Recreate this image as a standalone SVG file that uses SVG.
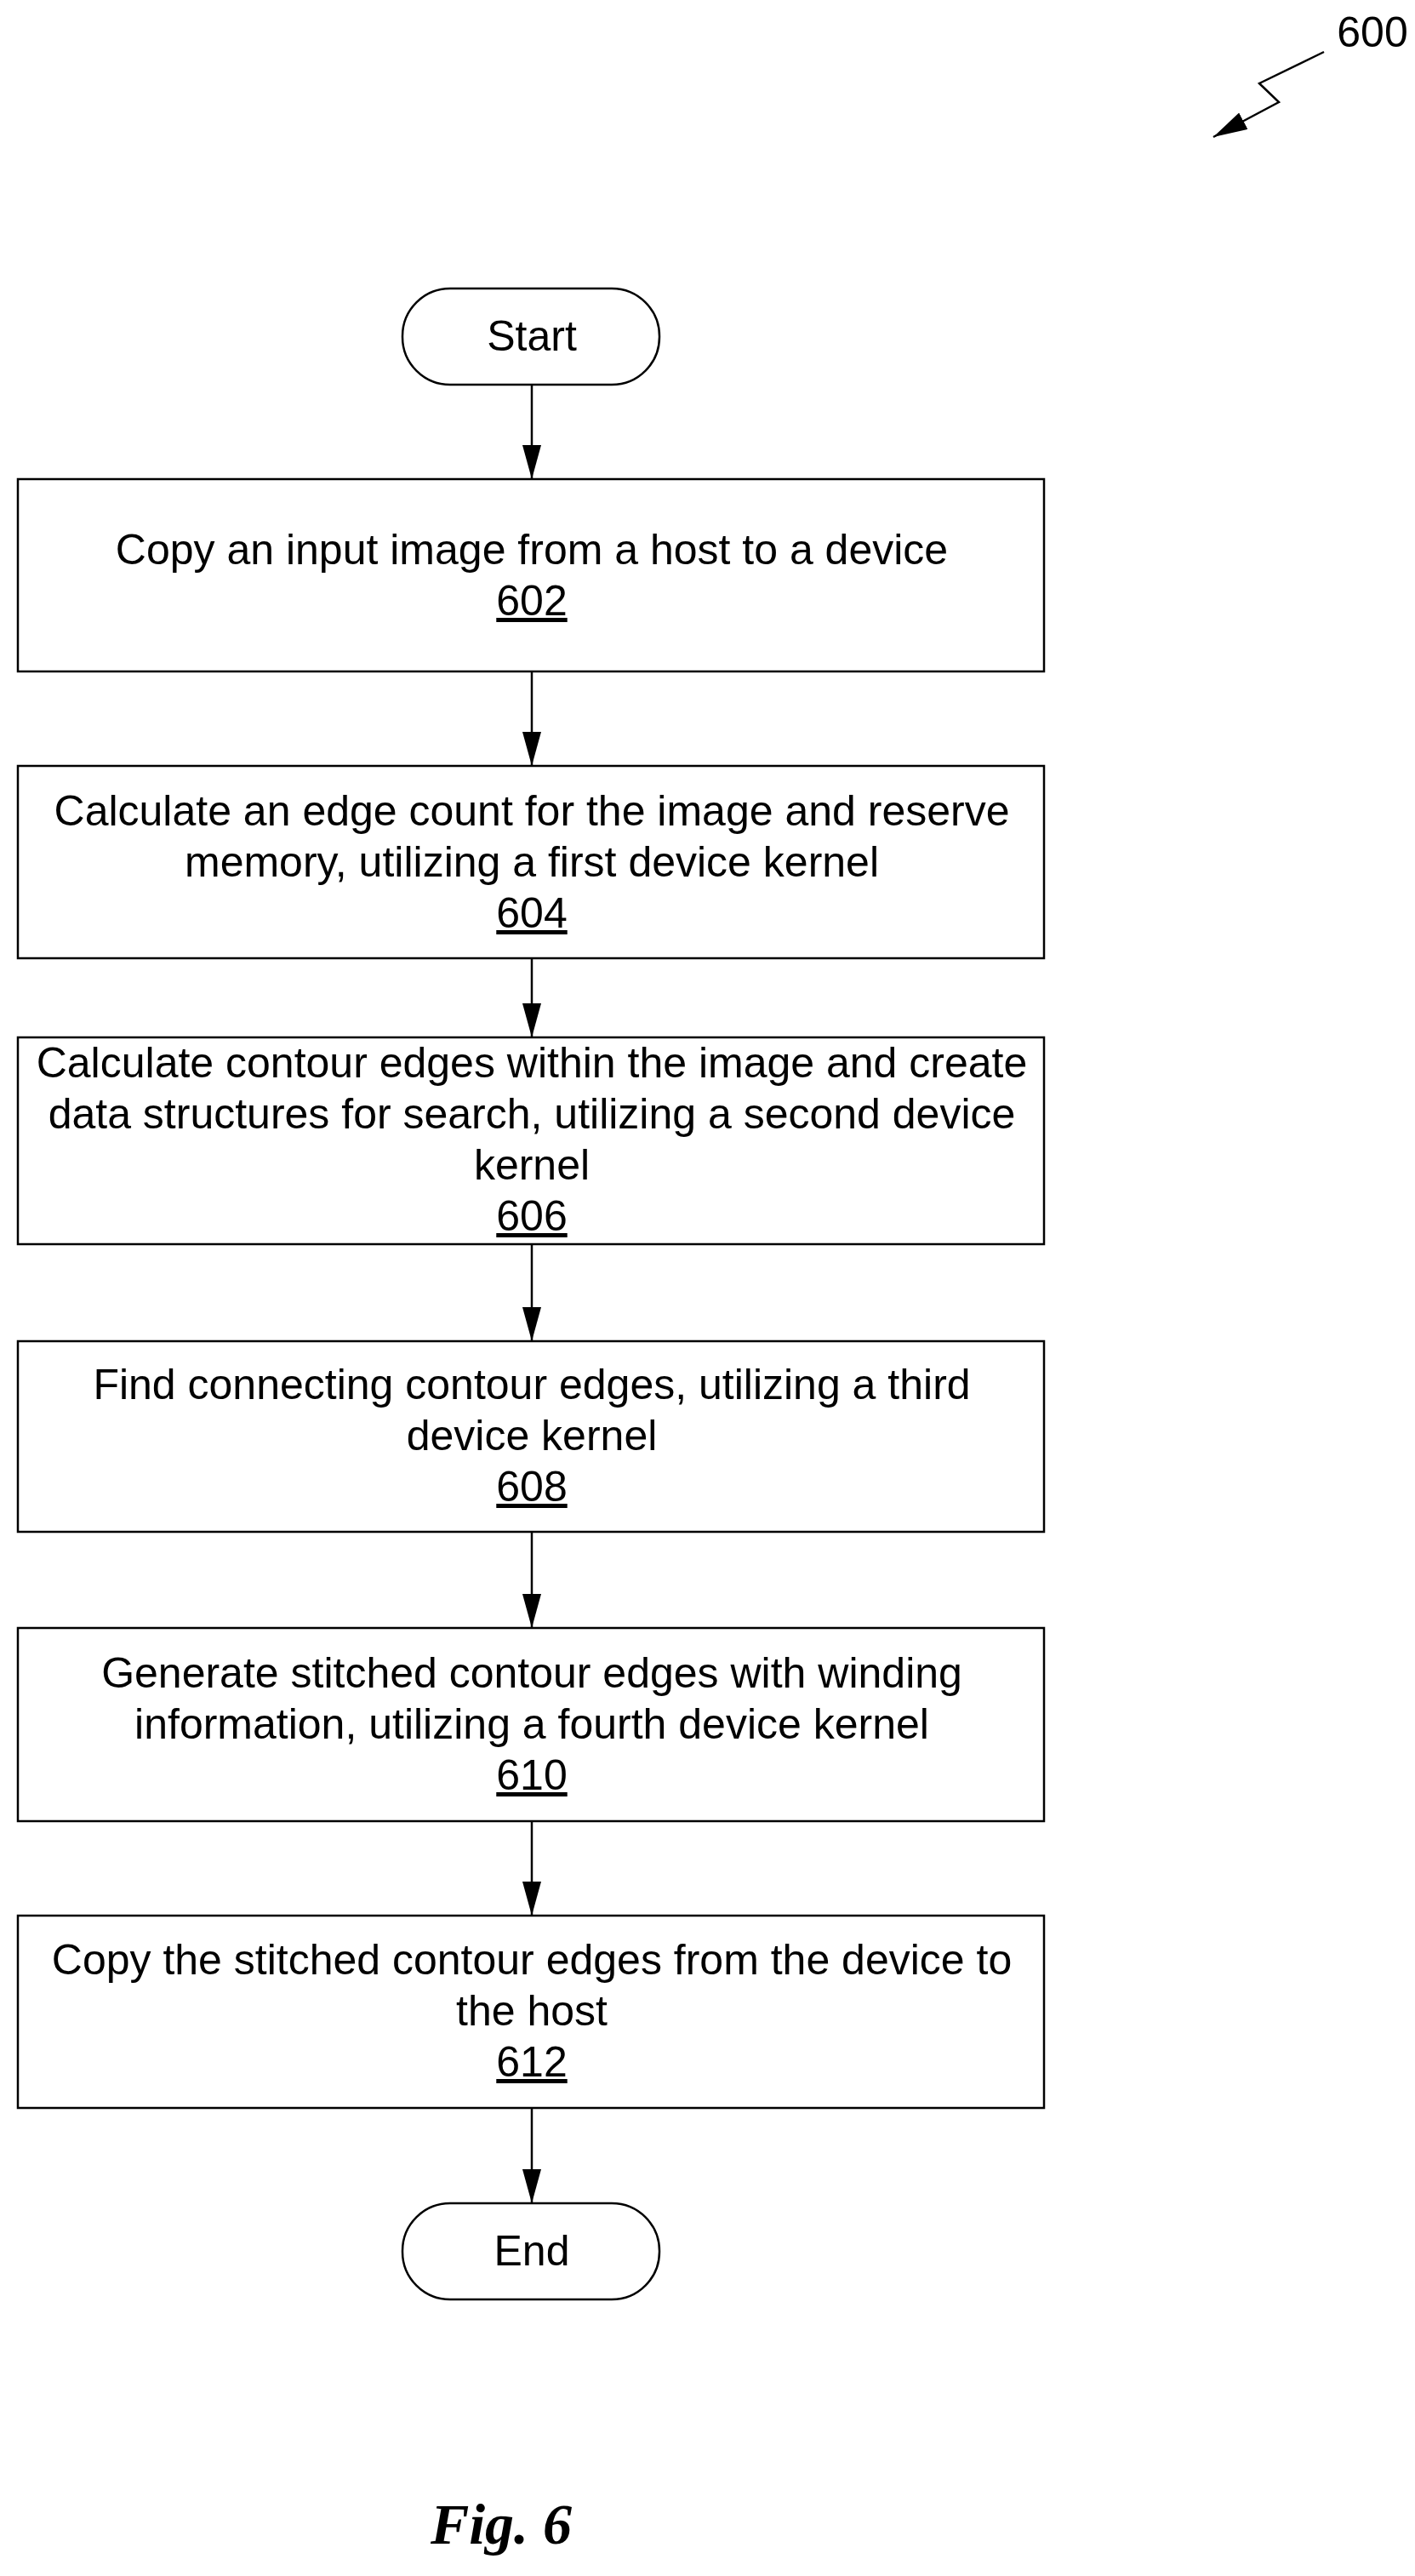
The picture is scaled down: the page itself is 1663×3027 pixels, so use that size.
<svg xmlns="http://www.w3.org/2000/svg" width="1663" height="3027" viewBox="0 0 1663 3027">
<style>
.b{fill:#fff;stroke:#000;stroke-width:2.5}
.t{font-family:"Liberation Sans",Arial,sans-serif;font-size:50px;text-anchor:middle;fill:#000}
.u{text-decoration:underline}
.c{stroke:#000;stroke-width:2.5;fill:none}
</style>
<defs><marker id="a" markerWidth="40" markerHeight="22" refX="40" refY="11" orient="auto" markerUnits="userSpaceOnUse"><path d="M0,0 L40,11 L0,22 Z" fill="#000"/></marker></defs>
<rect width="1663" height="3027" fill="#fff"/>
<g id="ref600">
<text class="t" x="1613" y="55">600</text>
<path class="c" d="M1556,61 L1480,98 L1503,120 L1426,161" marker-end="url(#a)"/>
</g>
<g id="connectors">
<path class="c" d="M625,452 V563" marker-end="url(#a)"/>
<path class="c" d="M625,789 V900" marker-end="url(#a)"/>
<path class="c" d="M625,1126 V1219" marker-end="url(#a)"/>
<path class="c" d="M625,1462 V1576" marker-end="url(#a)"/>
<path class="c" d="M625,1800 V1913" marker-end="url(#a)"/>
<path class="c" d="M625,2140 V2251" marker-end="url(#a)"/>
<path class="c" d="M625,2477 V2589" marker-end="url(#a)"/>
</g>
<g id="start"><rect class="b" x="473" y="339" width="302" height="113" rx="56"/><text class="t" x="625" y="412">Start</text></g>
<g id="n602"><rect class="b" x="21" y="563" width="1206" height="226"/>
<text class="t" x="625" y="663">Copy an input image from a host to a device</text><text class="t u" x="625" y="723">602</text></g>
<g id="n604"><rect class="b" x="21" y="900" width="1206" height="226"/>
<text class="t" x="625" y="970">Calculate an edge count for the image and reserve</text><text class="t" x="625" y="1030">memory, utilizing a first device kernel</text><text class="t u" x="625" y="1090">604</text></g>
<g id="n606"><rect class="b" x="21" y="1219" width="1206" height="243"/>
<text class="t" x="625" y="1266">Calculate contour edges within the image and create</text><text class="t" x="625" y="1326">data structures for search, utilizing a second device</text><text class="t" x="625" y="1386">kernel</text><text class="t u" x="625" y="1446">606</text></g>
<g id="n608"><rect class="b" x="21" y="1576" width="1206" height="224"/>
<text class="t" x="625" y="1644">Find connecting contour edges, utilizing a third</text><text class="t" x="625" y="1704">device kernel</text><text class="t u" x="625" y="1764">608</text></g>
<g id="n610"><rect class="b" x="21" y="1913" width="1206" height="227"/>
<text class="t" x="625" y="1983">Generate stitched contour edges with winding</text><text class="t" x="625" y="2043">information, utilizing a fourth device kernel</text><text class="t u" x="625" y="2103">610</text></g>
<g id="n612"><rect class="b" x="21" y="2251" width="1206" height="226"/>
<text class="t" x="625" y="2320">Copy the stitched contour edges from the device to</text><text class="t" x="625" y="2380">the host</text><text class="t u" x="625" y="2440">612</text></g>
<g id="end"><rect class="b" x="473" y="2589" width="302" height="113" rx="56"/><text class="t" x="625" y="2662">End</text></g>
<text x="589" y="2989" font-family="'Liberation Serif','Times New Roman',serif" font-size="68" font-weight="bold" font-style="italic" text-anchor="middle">Fig. 6</text>
</svg>
